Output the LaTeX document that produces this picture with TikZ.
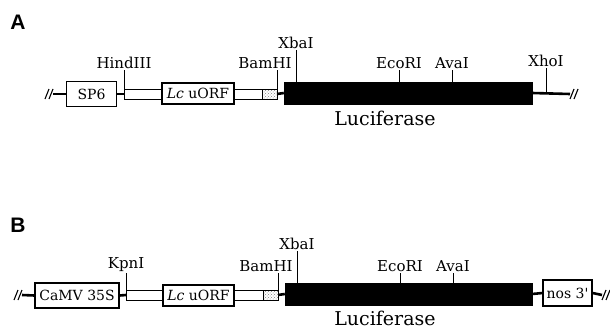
\documentclass[tikz,border=0pt]{standalone}
\usepackage{fontspec}
\setmainfont{DejaVu Serif}
\newfontfamily\panelfont{Liberation Sans}
\usetikzlibrary{patterns}
\tikzset{
  site/.style={font=\fontsize{15}{18}\selectfont, inner sep=1pt},
  elem/.style={draw, line width=1.1pt, fill=white, inner sep=0pt, font=\fontsize{14}{17}\selectfont},
  coding/.style={draw, fill=black, inner sep=0pt},
  lucname/.style={font=\fontsize{19}{23}\selectfont, inner sep=0pt},
  backbone/.style={line width=2.6pt},
  band/.style={draw, line width=0.9pt, fill=white},
  stipple/.style={draw, line width=0.9pt, pattern=crosshatch dots, pattern color=gray},
  tick/.style={line width=1pt},
  breakmark/.style={line width=1.1pt},
  panel/.style={font=\panelfont\bfseries\fontsize{21}{25}\selectfont, inner sep=0pt}
}
\begin{document}
\begin{tikzpicture}[x=1pt,y=-1pt]
\useasboundingbox (0,0) rectangle (610,329);
% Panel A
\node[panel] (panA) at (18,22) {A};
\node[elem, minimum width=50pt, minimum height=25pt] (sp6) at (91.5,94) {SP6};
\node[elem, minimum width=72pt, minimum height=21pt] (lcA) at (198,93.5) {\textit{Lc} uORF};
\node[coding, minimum width=248pt, minimum height=22pt] (lucA) at (408,93) {};
\node[lucname] (lucAname) at (385,118) {Luciferase};
\coordinate (brkAL) at (53,94);
\coordinate (brkAR) at (570,94);
\coordinate (hindA) at (124,94);
\coordinate (bamA) at (277,94);
\coordinate (xbaA) at (296,82);
\coordinate (ecoA) at (399,82);
\coordinate (avaA) at (452,82);
\coordinate (xhoA) at (546,94);
% Draw backbone
\draw[breakmark] (45,99) -- (49,89) (49,99) -- (53,89);
\draw[backbone] (brkAL) -- (sp6.west);
\draw[backbone] (sp6.east) -- (hindA);
\draw[backbone] (bamA) -- (lucA.west);
\draw[backbone] (lucA.east) -- (brkAR);
\draw[breakmark] (570,99) -- (574,89) (574,99) -- (578,89);
% Draw sites
\draw[tick] (hindA) -- ++(0,-24) node[site, above] (hindAlab) {HindIII};
\draw[tick] (bamA) -- ++(0,-24) node[site, above, xshift=-12pt] (bamAlab) {BamHI};
\draw[tick] (xbaA) -- ++(0,-32) node[site, above] (xbaAlab) {XbaI};
\draw[tick] (ecoA) -- ++(0,-12) node[site, above] (ecoAlab) {EcoRI};
\draw[tick] (avaA) -- ++(0,-12) node[site, above] (avaAlab) {AvaI};
\draw[tick] (xhoA) -- ++(0,-26) node[site, above] (xhoAlab) {XhoI};
% Draw leader
\draw[band] (hindA |- 0,89) rectangle (lcA.west |- 0,99);
\draw[band] (lcA.east |- 0,89) rectangle (262,99);
\draw[stipple] (262,89) rectangle (bamA |- 0,99);
% Panel B
\node[panel] (panB) at (18,225) {B};
\node[elem, minimum width=84pt, minimum height=25pt] (camv) at (77,295.5) {CaMV 35S};
\node[elem, minimum width=71pt, minimum height=21pt] (lcB) at (198.5,295.5) {\textit{Lc} uORF};
\node[coding, minimum width=247pt, minimum height=22pt] (lucB) at (408.5,294) {};
\node[elem, minimum width=49pt, minimum height=26pt] (nos) at (567.5,293) {nos 3\textquotesingle};
\node[lucname] (lucBname) at (385,318) {Luciferase};
\coordinate (brkBL) at (22,295);
\coordinate (brkBR) at (602,295);
\coordinate (kpnB) at (126,295);
\coordinate (bamB) at (278,295);
\coordinate (xbaB) at (297,283);
\coordinate (ecoB) at (400,283);
\coordinate (avaB) at (453,283);
% Draw backbone
\draw[breakmark] (14,300) -- (18,290) (18,300) -- (22,290);
\draw[backbone] (brkBL) -- (camv.west);
\draw[backbone] (camv.east) -- (kpnB);
\draw[backbone] (bamB) -- (lucB.west);
\draw[backbone] (lucB.east) -- (nos.west);
\draw[backbone] (nos.east) -- (brkBR);
\draw[breakmark] (602,300) -- (606,290) (606,300) -- (610,290);
% Draw sites
\draw[tick] (kpnB) -- ++(0,-22) node[site, above] (kpnBlab) {KpnI};
\draw[tick] (bamB) -- ++(0,-22) node[site, above, xshift=-12pt] (bamBlab) {BamHI};
\draw[tick] (xbaB) -- ++(0,-32) node[site, above] (xbaBlab) {XbaI};
\draw[tick] (ecoB) -- ++(0,-10) node[site, above] (ecoBlab) {EcoRI};
\draw[tick] (avaB) -- ++(0,-10) node[site, above] (avaBlab) {AvaI};
% Draw leader
\draw[band] (kpnB |- 0,290) rectangle (lcB.west |- 0,300);
\draw[band] (lcB.east |- 0,290) rectangle (263,300);
\draw[stipple] (263,290) rectangle (bamB |- 0,300);
\end{tikzpicture}
\end{document}
